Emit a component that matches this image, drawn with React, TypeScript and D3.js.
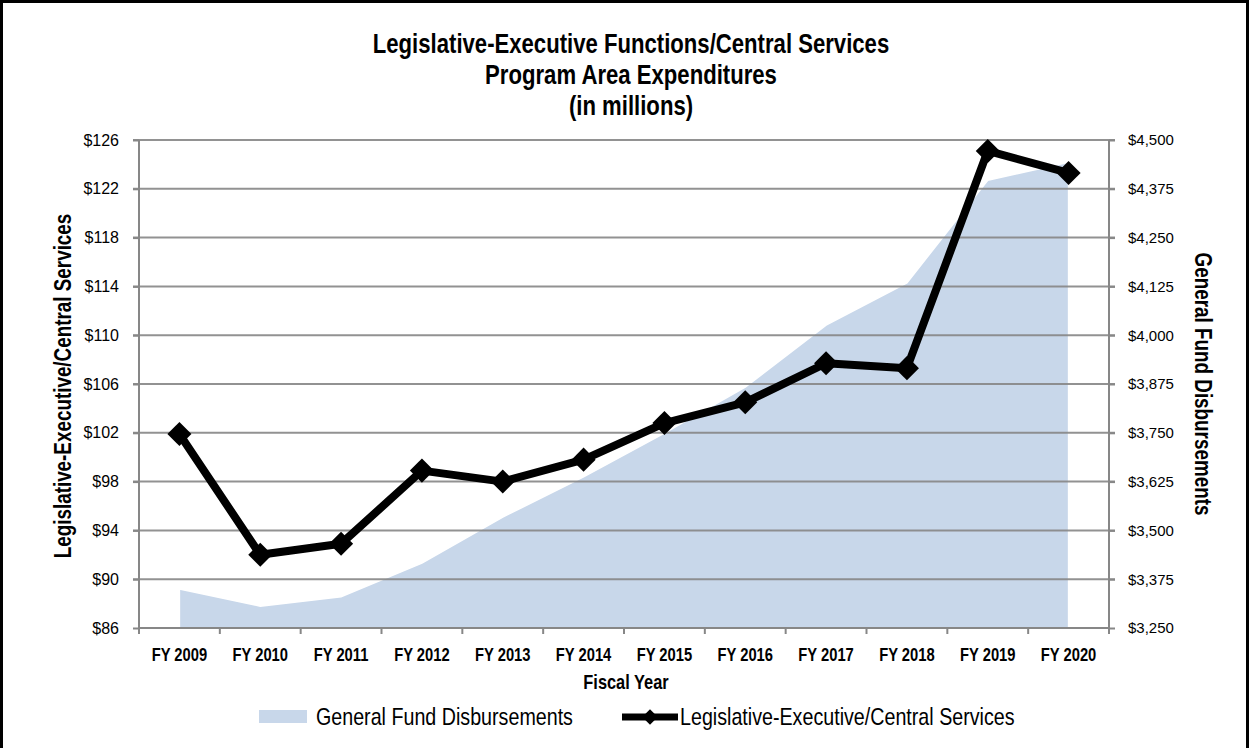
import React, {useEffect, useRef} from "react";
import * as d3 from "d3";

// data
const years = ["FY 2009", "FY 2010", "FY 2011", "FY 2012", "FY 2013", "FY 2014", "FY 2015", "FY 2016", "FY 2017", "FY 2018", "FY 2019", "FY 2020"]
const generalFund = [3350, 3306, 3330, 3416, 3534, 3637, 3749, 3867, 4026, 4134, 4397, 4443]
const legExec = [101.9, 92.0, 92.9, 98.9, 98.0, 99.8, 102.8, 104.5, 107.7, 107.3, 125.1, 123.3]
const leftTicks = [86, 90, 94, 98, 102, 106, 110, 114, 118, 122, 126]
const rightTicks = [3250, 3375, 3500, 3625, 3750, 3875, 4000, 4125, 4250, 4375, 4500]

const W = 1249
const H = 748
const SANS = "'Liberation Sans', Arial, sans-serif"
const NARROW_X = 0.82 // no narrow font installed, so squeeze Liberation Sans
const GRID = "#878787"
const AREA = "#c8d7ea"

// draws condensed text: a g positioned at (x,y), optionally rotated, squeezed horizontally
function narrowText(parent: any, x: number, y: number, txt: string, size: number, opts: any = {}) {
    const g = parent.append("g")
        .attr("transform", `translate(${x},${y}) rotate(${opts.rotate || 0}) scale(${NARROW_X},1)`)
    g.append("text")
        .attr("text-anchor", opts.anchor || "middle")
        .attr("font-family", SANS)
        .attr("font-weight", opts.weight || "bold")
        .attr("font-size", size)
        .attr("fill", "#000")
        .text(txt)
    return g
}

const App = () => {
    const svgRef = useRef(null)

    useEffect(() => {
        const svg = d3.select(svgRef.current)
        svg.selectAll("*").remove()

        const left = 139, right = 1109, top = 140, bottom = 628

        const x = d3.scaleBand().domain(years).range([left, right])
        const cx = (d: string) => (x(d) as number) + x.bandwidth() / 2
        const yL = d3.scaleLinear().domain([86, 126]).range([bottom, top])
        const yR = d3.scaleLinear().domain([3250, 4500]).range([bottom, top])

        // outer frame
        svg.append("rect")
            .attr("x", 1.5).attr("y", 1.5)
            .attr("width", W - 3).attr("height", H + 10)
            .attr("fill", "white").attr("stroke", "black").attr("stroke-width", 3)

        // area for general fund (right axis)
        const area = d3.area<number>()
            .x((d, i) => cx(years[i]))
            .y0(bottom)
            .y1(d => yR(d))
        svg.append("path")
            .datum(generalFund)
            .attr("d", area)
            .attr("fill", AREA)
            .attr("stroke", "white")
            .attr("stroke-width", 1.5)

        // gridlines
        svg.append("g")
            .selectAll("line")
            .data(leftTicks.slice(1))
            .join("line")
            .attr("x1", left - 6).attr("x2", right + 6)
            .attr("y1", d => yL(d)).attr("y2", d => yL(d))
            .attr("stroke", GRID).attr("stroke-width", 2).attr("opacity", 0.9)

        // left axis
        const axisL = d3.axisLeft(yL).tickValues(leftTicks).tickSize(6).tickPadding(14)
            .tickFormat(d => "$" + d3.format(",")(d as number))
        const gL = svg.append("g").attr("transform", `translate(${left},0)`).call(axisL)
        gL.select(".domain").attr("stroke", GRID).attr("stroke-width", 2).attr("d", `M-0,${top}V${bottom + 6}`)
        gL.selectAll(".tick line").attr("stroke", GRID).attr("stroke-width", 2)
        gL.selectAll(".tick text").attr("font-family", SANS).attr("font-size", 16).attr("fill", "#000")

        // right axis
        const axisR = d3.axisRight(yR).tickValues(rightTicks).tickSize(6).tickPadding(13)
            .tickFormat(d => "$" + d3.format(",")(d as number))
        const gR = svg.append("g").attr("transform", `translate(${right},0)`).call(axisR)
        gR.select(".domain").attr("stroke", GRID).attr("stroke-width", 2).attr("d", `M0,${top}V${bottom + 6}`)
        gR.selectAll(".tick line").attr("stroke", GRID).attr("stroke-width", 2)
        gR.selectAll(".tick text").attr("font-family", SANS).attr("font-size", 15).attr("fill", "#000")

        // bottom axis
        const gB = svg.append("g").attr("transform", `translate(0,${bottom})`)
        gB.append("line").attr("x1", left).attr("x2", right).attr("stroke", GRID).attr("stroke-width", 2)
        gB.selectAll(".tk")
            .data([...years.map(d => x(d) as number), right])
            .join("line")
            .attr("class", "tk")
            .attr("x1", d => d).attr("x2", d => d)
            .attr("y1", 0).attr("y2", 6)
            .attr("stroke", GRID).attr("stroke-width", 2)
        years.forEach(d => narrowText(gB, cx(d), 33, d, 18))

        // line series
        const line = d3.line<number>()
            .x((d, i) => cx(years[i]))
            .y(d => yL(d))
        svg.append("path")
            .datum(legExec)
            .attr("d", line)
            .attr("fill", "none")
            .attr("stroke", "black")
            .attr("stroke-width", 8)
            .attr("stroke-linejoin", "round")

        const marker = d3.symbol(d3.symbolSquare).size(17 * 17)
        svg.append("g")
            .selectAll("path")
            .data(legExec)
            .join("path")
            .attr("d", marker)
            .attr("transform", (d, i) => `translate(${cx(years[i])},${yL(d)}) rotate(45)`)
            .attr("fill", "black")

        // titles
        const title = ["Legislative-Executive Functions/Central Services", "Program Area Expenditures", "(in millions)"]
        title.forEach((t, i) => narrowText(svg, 631, 53 + i * 31, t, 27))

        narrowText(svg, 71, 386, "Legislative-Executive/Central Services", 23, {rotate: -90})
        narrowText(svg, 1195, 384, "General Fund Disbursements", 23, {rotate: 90})
        narrowText(svg, 626, 689, "Fiscal Year", 20)

        // legend
        const lg = svg.append("g").attr("transform", "translate(0,717)")
        lg.append("rect").attr("x", 259).attr("y", -7).attr("width", 48).attr("height", 13).attr("fill", AREA)
        narrowText(lg, 316, 8, "General Fund Disbursements", 24, {anchor: "start", weight: "normal"})
        lg.append("line").attr("x1", 622).attr("x2", 678).attr("stroke", "black").attr("stroke-width", 7)
        lg.append("path").attr("d", d3.symbol(d3.symbolSquare).size(11 * 11)).attr("transform", "translate(650,0) rotate(45)")
        narrowText(lg, 680, 8, "Legislative-Executive/Central Services", 24, {anchor: "start", weight: "normal"})
    }, [])

    return (
        <div style={{position: "absolute", left: 0, top: 0}}>
            <svg ref={svgRef} width={W} height={H} style={{display: "block"}}/>
        </div>
    );
};

export default App;
